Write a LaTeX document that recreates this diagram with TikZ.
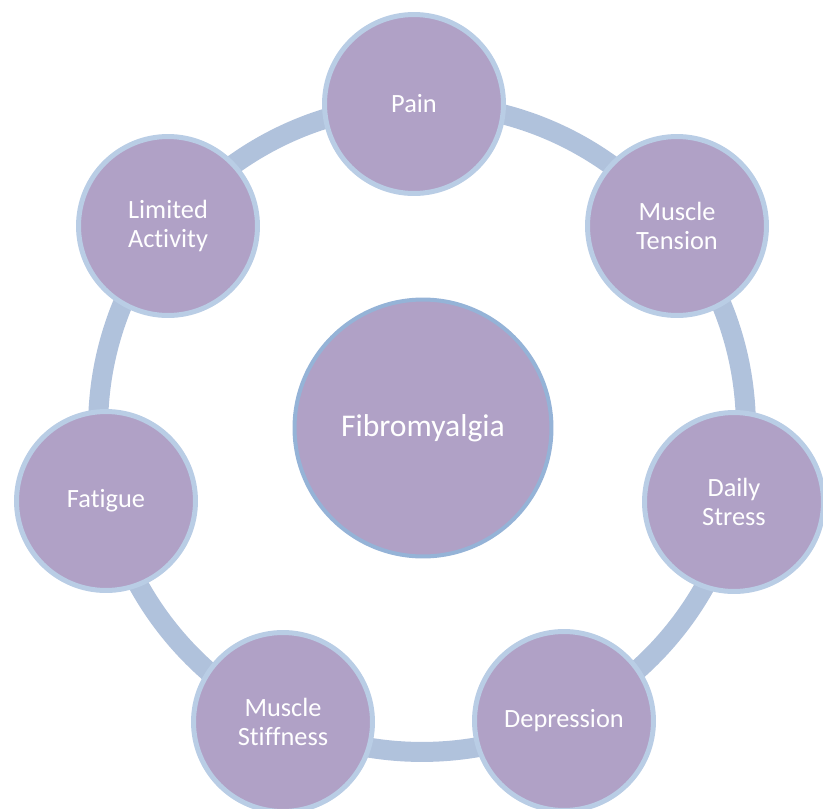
\documentclass[tikz,border=0pt]{standalone}
\usepackage{fontspec}
\setmainfont{Carlito}[Ligatures=NoCommon]
\definecolor{bubblefill}{HTML}{B0A1C6}
\definecolor{bubbleedge}{HTML}{B9CDE5}
\definecolor{hubedge}{HTML}{95B3D7}
\definecolor{ringcol}{HTML}{B0C2DC}
\tikzset{
  bubble/.style={circle, fill=bubblefill, draw=bubbleedge, line width=0.1cm,
    minimum size=3.58cm, inner sep=0pt, text=white, align=center,
    font=\fontsize{15pt}{17pt}\selectfont},
  hub/.style={circle, fill=bubblefill, draw=hubedge, line width=0.08cm,
    minimum size=5.14cm, inner sep=0pt, text=white,
    font=\fontsize{18pt}{21pt}\selectfont},
  ring/.style={draw=ringcol, line width=0.4cm}
}
\begin{document}
\begin{tikzpicture}[x=0.02cm,y=-0.02cm]
  \useasboundingbox (0,0) rectangle (823,809);
  \coordinate (c) at (422,428);
  % cycle ring behind the bubbles
  \draw[ring] (c) circle [radius=6.48cm];
  % central hub
  \node[hub] (fibro) at (423,428) {Fibromyalgia};
  % surrounding bubbles
  \node[bubble] (pain) at (414,104) {Pain};
  \node[bubble] (tension) at (677,226) {Muscle\\Tension};
  \node[bubble] (stress) at (734,502) {Daily\\Stress};
  \node[bubble] (depression) at (564,721) {Depression};
  \node[bubble] (stiffness) at (283,722) {Muscle\\Stiffness};
  \node[bubble] (fatigue) at (106,501) {Fatigue};
  \node[bubble] (limited) at (168,226) {Limited\\Activity};
\end{tikzpicture}
\end{document}
